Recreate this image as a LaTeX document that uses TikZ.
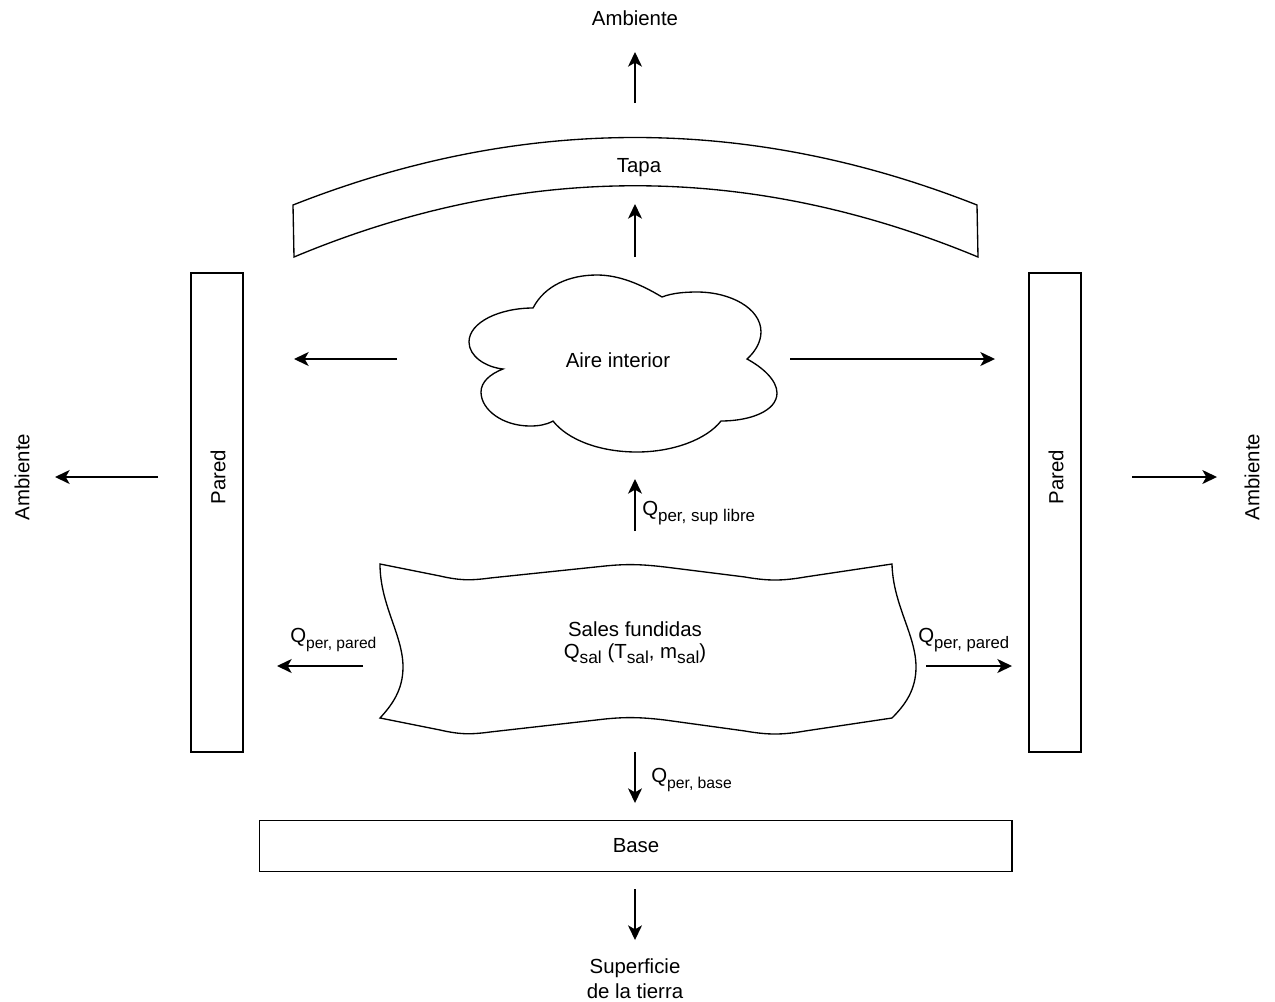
\documentclass[tikz,border=0pt]{standalone}
\usepackage{fontspec}
\setmainfont{Liberation Sans}
\usetikzlibrary{arrows.meta}
\newcommand{\subt}[2][11.8pt]{\raisebox{-0.28em}{\fontsize{#1}{12pt}\selectfont #2}}
\tikzset{
  shapeline/.style={draw=black,line width=1pt,line join=miter},
  flow/.style={draw=black,line width=1pt,-{Stealth[length=11pt,width=10.5pt,inset=3pt]}},
  lbl/.style={inner sep=0pt,font=\fontsize{15.3pt}{18pt}\selectfont,align=center,text=black},
  wallbox/.style={draw=black,line width=1pt,minimum width=39pt,minimum height=359.25pt,inner sep=0pt,font=\fontsize{15.3pt}{18pt}\selectfont},
}
\begin{document}
\begin{tikzpicture}[x=0.75pt,y=-0.75pt]
\useasboundingbox (0,0) rectangle (1275,1001);
% Tapa
\draw[shapeline] (293,205) .. controls (521,115) and (749,115) .. (977,205)
  -- (978,257) .. controls (749,162) and (521,162) .. (294,257) -- cycle;
\node[lbl] (tapa) at (639,168) {Tapa};
% Walls
\node[wallbox] (paredL) at (217,512.5) {};
\node[wallbox] (paredR) at (1055,512.5) {};
\node[lbl,rotate=90] (paredLt) at (218,477) {Pared};
\node[lbl,rotate=90] (paredRt) at (1056,477) {Pared};
% Base
\node[draw=black,line width=1pt,minimum width=564.5pt,minimum height=38.5pt,inner sep=0pt,font=\fontsize{15.3pt}{18pt}\selectfont] (base) at (635.5,846) {};
\node[lbl] (baset) at (636,846) {Base};
% Cloud
\draw[shapeline] (533,308)
  .. controls (545,285) and (570,275) .. (597,275)
  .. controls (620,275) and (642,285) .. (662,297)
  .. controls (672,293) and (685,292) .. (697,292)
  .. controls (730,292) and (761,308) .. (761,332)
  .. controls (761,342) and (755,352) .. (747,359)
  .. controls (762,367) and (777,380) .. (777,393)
  .. controls (777,411) and (750,421) .. (721,421)
  .. controls (706,440) and (672,452) .. (637,452)
  .. controls (600,452) and (568,440) .. (553,421)
  .. controls (546,425) and (538,426) .. (530,426)
  .. controls (503,426) and (481,410) .. (481,392)
  .. controls (481,382) and (490,374) .. (503,369)
  .. controls (485,367) and (469,356) .. (469,342)
  .. controls (469,322) and (500,308) .. (533,308) -- cycle;
\node[lbl] (aire) at (618,360) {Aire interior};
% Sales fundidas
\draw[shapeline] (380,564) -- (440,576) .. controls (458,580) and (468,581) .. (490,578)
  -- (605,566) .. controls (625,564) and (640,564) .. (665,567)
  -- (745,577) .. controls (768,581) and (782,581) .. (805,577)
  -- (892,564)
  .. controls (893,605) and (916,635) .. (916,667)
  .. controls (916,690) and (905,705) .. (892,718)
  -- (805,731) .. controls (782,735) and (768,735) .. (745,731)
  -- (665,720) .. controls (640,717) and (625,717) .. (605,719)
  -- (490,732) .. controls (468,735) and (458,734) .. (440,730)
  -- (380,718)
  .. controls (392,705) and (403,690) .. (403,667)
  .. controls (403,635) and (380,605) .. (380,564) -- cycle;
\node[lbl] (sales) at (635,643) {Sales fundidas\\[-2pt]Q\subt[13pt]{sal} (T\subt[13pt]{sal}, m\subt[13pt]{sal})};
% Outer labels
\node[lbl] (ambT) at (635,18) {Ambiente};
\node[lbl,rotate=90] (ambL) at (22,477) {Ambiente};
\node[lbl,rotate=90] (ambR) at (1252,477) {Ambiente};
\node[lbl] (sup) at (635,979) {Superficie\\[1pt]de la tierra};
% Heat labels
\node[lbl,anchor=west] (qsup) at (642,513) {Q\subt[12.7pt]{per, sup libre}};
\node[lbl,anchor=west] (qpl) at (290,640) {Q\subt[11.7pt]{per, pared}};
\node[lbl,anchor=west] (qpr) at (918,640) {Q\subt[12.5pt]{per, pared}};
\node[lbl,anchor=west] (qbase) at (651,780) {Q\subt[11.8pt]{per, base}};
% Arrow end points
\foreach \n/\x/\y in {a1/635/103,a2/635/52,b1/635/257,b2/635/204,c1/397/359,c2/294/359,
  d1/790/359,d2/995/359,e1/158/477,e2/55/477,f1/1132/477,f2/1217/477,g1/635/531,g2/635/479,
  h1/363/666,h2/277/666,i1/926/666,i2/1012/666,j1/635/752,j2/635/803,k1/635/889,k2/635/940}
  \coordinate (\n) at (\x,\y);
\foreach \n in {a,b,c,d,e,f,g,h,i,j,k}
  \draw[flow] (\n1) -- (\n2);
\end{tikzpicture}
\end{document}
